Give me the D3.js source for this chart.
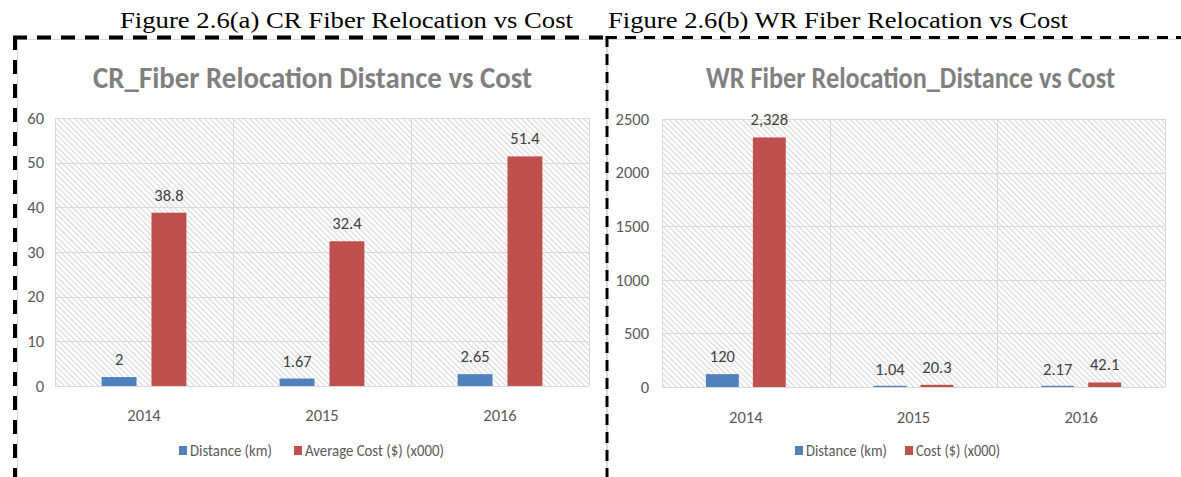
<!DOCTYPE html>
<html>
<head>
<meta charset="utf-8">
<script src="https://cdn.jsdelivr.net/npm/d3@7"></script>
<style>
  html, body { margin: 0; padding: 0; background: #fff; }
  svg { display: block; }
</style>
</head>
<body>
<svg id="chart" width="1181" height="477"></svg>
<script>
// ---------- data ----------
const categories = ["2014", "2015", "2016"];

const crSeriesNames = ["Distance (km)", "Average Cost ($) (x000)"];
const crDistance = [2, 1.67, 2.65];
const crAvgCost = [38.8, 32.4, 51.4];
const crTicks = [0, 10, 20, 30, 40, 50, 60];

const wrSeriesNames = ["Distance (km)", "Cost ($) (x000)"];
const wrDistance = [120, 1.04, 2.17];
const wrCost = [2328, 20.3, 42.1];
const wrTicks = [0, 500, 1000, 1500, 2000, 2500];

const captions = ["Figure 2.6(a) CR Fiber Relocation vs Cost", "Figure 2.6(b) WR Fiber Relocation vs Cost"];
const titles = ["CR_Fiber Relocation Distance vs Cost", "WR Fiber Relocation_Distance vs Cost"];
const seriesColors = ["#4f81bd", "#c0504d"];

// ---------- drawing ----------
const svg = d3.select("#chart");
const uiFont = "Carlito, 'Liberation Sans Narrow', 'Roboto Condensed', 'Liberation Sans', sans-serif";

const defs = svg.append("defs");
const pat = defs.append("pattern")
  .attr("id", "hatch")
  .attr("patternUnits", "userSpaceOnUse")
  .attr("width", 4).attr("height", 4)
  .attr("patternTransform", "rotate(-45)");
pat.append("rect").attr("width", 4).attr("height", 4).attr("fill", "#ffffff");
pat.append("line").attr("x1", 0.6).attr("x2", 0.6).attr("y1", 0).attr("y2", 4)
  .attr("stroke", "#d6d6d6").attr("stroke-width", 1.1);

// captions
svg.append("text").attr("x", 120).attr("y", 28).text(captions[0])
  .attr("font-family", "'Liberation Serif', 'Times New Roman', serif").attr("font-size", 24)
  .attr("textLength", 453).attr("lengthAdjust", "spacingAndGlyphs").attr("fill", "#000");
svg.append("text").attr("x", 608).attr("y", 28).text(captions[1])
  .attr("font-family", "'Liberation Serif', 'Times New Roman', serif").attr("font-size", 24)
  .attr("textLength", 460).attr("lengthAdjust", "spacingAndGlyphs").attr("fill", "#000");

// chart area light borders
svg.append("rect").attr("x", 17.5).attr("y", 39.5).attr("width", 589).attr("height", 450)
  .attr("fill", "none").attr("stroke", "#d9d9d9");
svg.append("rect").attr("x", 607.5).attr("y", 39.5).attr("width", 590).attr("height", 450)
  .attr("fill", "none").attr("stroke", "#d9d9d9");

function drawChart(cfg) {
  const g = svg.append("g");
  const x0 = d3.scaleBand().domain(categories).range([cfg.left, cfg.right]).paddingInner(0).paddingOuter(0);
  const x1 = d3.scaleBand().domain([0, 1]).range([0, x0.bandwidth()]).paddingInner(0.3).paddingOuter(0.935);
  const y = d3.scaleLinear().domain([0, cfg.ticks[cfg.ticks.length - 1]]).range([cfg.bottom, cfg.top]);

  // plot background hatch
  g.append("rect").attr("x", cfg.left).attr("y", cfg.top)
    .attr("width", cfg.right - cfg.left).attr("height", cfg.bottom - cfg.top)
    .attr("fill", "url(#hatch)");

  // horizontal gridlines
  g.selectAll(".hg").data(cfg.ticks).enter().append("line")
    .attr("x1", cfg.left).attr("x2", cfg.right)
    .attr("y1", d => Math.round(y(d)) + 0.5).attr("y2", d => Math.round(y(d)) + 0.5)
    .attr("stroke", "#d9d9d9").attr("stroke-width", 1);
  // vertical gridlines at category boundaries
  const bounds = categories.map(c => x0(c)).concat([cfg.right]);
  g.selectAll(".vg").data(bounds).enter().append("line")
    .attr("x1", d => Math.round(d) + 0.5).attr("x2", d => Math.round(d) + 0.5)
    .attr("y1", cfg.top).attr("y2", cfg.bottom)
    .attr("stroke", "#d9d9d9").attr("stroke-width", 1);

  // y axis tick labels
  const yAxis = d3.axisLeft(y).tickValues(cfg.ticks).tickSize(0).tickPadding(cfg.tickPad).tickFormat(d3.format("d"));
  const ya = g.append("g").attr("transform", `translate(${cfg.left},0)`).call(yAxis);
  ya.select(".domain").remove();
  ya.selectAll("text").attr("font-family", uiFont).attr("font-size", 16.5).attr("fill", "#595959");

  // x axis labels
  const xAxis = d3.axisBottom(x0).tickSize(0).tickPadding(cfg.xPad);
  const xa = g.append("g").attr("transform", `translate(0,${cfg.bottom})`).call(xAxis);
  xa.select(".domain").remove();
  xa.selectAll("text").attr("font-family", uiFont).attr("font-size", 16.5).attr("fill", "#595959");

  // bars
  const rows = categories.map((c, i) => ({ c, vals: [cfg.s0[i], cfg.s1[i]] }));
  const grp = g.selectAll(".grp").data(rows).enter().append("g")
    .attr("transform", d => `translate(${x0(d.c)},0)`);
  grp.selectAll("rect").data(d => d.vals.map((v, k) => ({ v, k }))).enter().append("rect")
    .attr("x", d => x1(d.k)).attr("width", x1.bandwidth())
    .attr("y", d => Math.min(y(d.v), cfg.bottom - 1.2))
    .attr("height", d => Math.max(cfg.bottom - y(d.v), 1.2))
    .attr("fill", d => seriesColors[d.k]);
  grp.selectAll("text").data(d => d.vals.map((v, k) => ({ v, k }))).enter().append("text")
    .attr("x", d => x1(d.k) + x1.bandwidth() / 2)
    .attr("y", d => y(d.v) - 12)
    .attr("text-anchor", "middle")
    .attr("font-family", uiFont).attr("font-size", 16.5).attr("fill", "#404040")
    .text(d => d3.format(",")(d.v));

  // title
  g.append("text").attr("x", cfg.titleX).attr("y", 88).text(cfg.title)
    .attr("font-family", uiFont).attr("font-weight", "bold").attr("font-size", 30)
    .attr("fill", "#808080").attr("textLength", cfg.titleW).attr("lengthAdjust", "spacingAndGlyphs");

  // legend
  const leg = g.append("g");
  cfg.names.forEach((n, k) => {
    leg.append("rect").attr("x", cfg.legX[k]).attr("y", 446).attr("width", 8).attr("height", 9)
      .attr("fill", seriesColors[k]);
    leg.append("text").attr("x", cfg.legX[k] + 11).attr("y", 456).text(n)
      .attr("font-family", uiFont).attr("font-size", 16.5).attr("fill", "#595959")
      .attr("textLength", cfg.legW[k]).attr("lengthAdjust", "spacingAndGlyphs");
  });
}

drawChart({
  left: 55, right: 589, top: 118, bottom: 386,
  ticks: crTicks, s0: crDistance, s1: crAvgCost, names: crSeriesNames,
  title: titles[0], titleX: 93, titleW: 439, tickPad: 11, xPad: 23,
  legX: [179, 294], legW: [82, 139]
});
drawChart({
  left: 662, right: 1165, top: 119, bottom: 387,
  ticks: wrTicks, s0: wrDistance, s1: wrCost, names: wrSeriesNames,
  title: titles[1], titleX: 706, titleW: 409, tickPad: 13, xPad: 24,
  legX: [795, 905], legW: [81, 84]
});

// dashed outer borders
svg.append("line").attr("x1", 13).attr("x2", 606).attr("y1", 37.5).attr("y2", 37.5)
  .attr("stroke", "#000").attr("stroke-width", 4).attr("stroke-dasharray", "14 10");
svg.append("line").attr("x1", 606).attr("x2", 1181).attr("y1", 37.5).attr("y2", 37.5)
  .attr("stroke", "#000").attr("stroke-width", 3).attr("stroke-dasharray", "11 8");
svg.append("line").attr("x1", 15).attr("x2", 15).attr("y1", 36).attr("y2", 477)
  .attr("stroke", "#000").attr("stroke-width", 4).attr("stroke-dasharray", "14 10");
svg.append("line").attr("x1", 607).attr("x2", 607).attr("y1", 36).attr("y2", 477)
  .attr("stroke", "#000").attr("stroke-width", 3).attr("stroke-dasharray", "11 7");
</script>
</body>
</html>
